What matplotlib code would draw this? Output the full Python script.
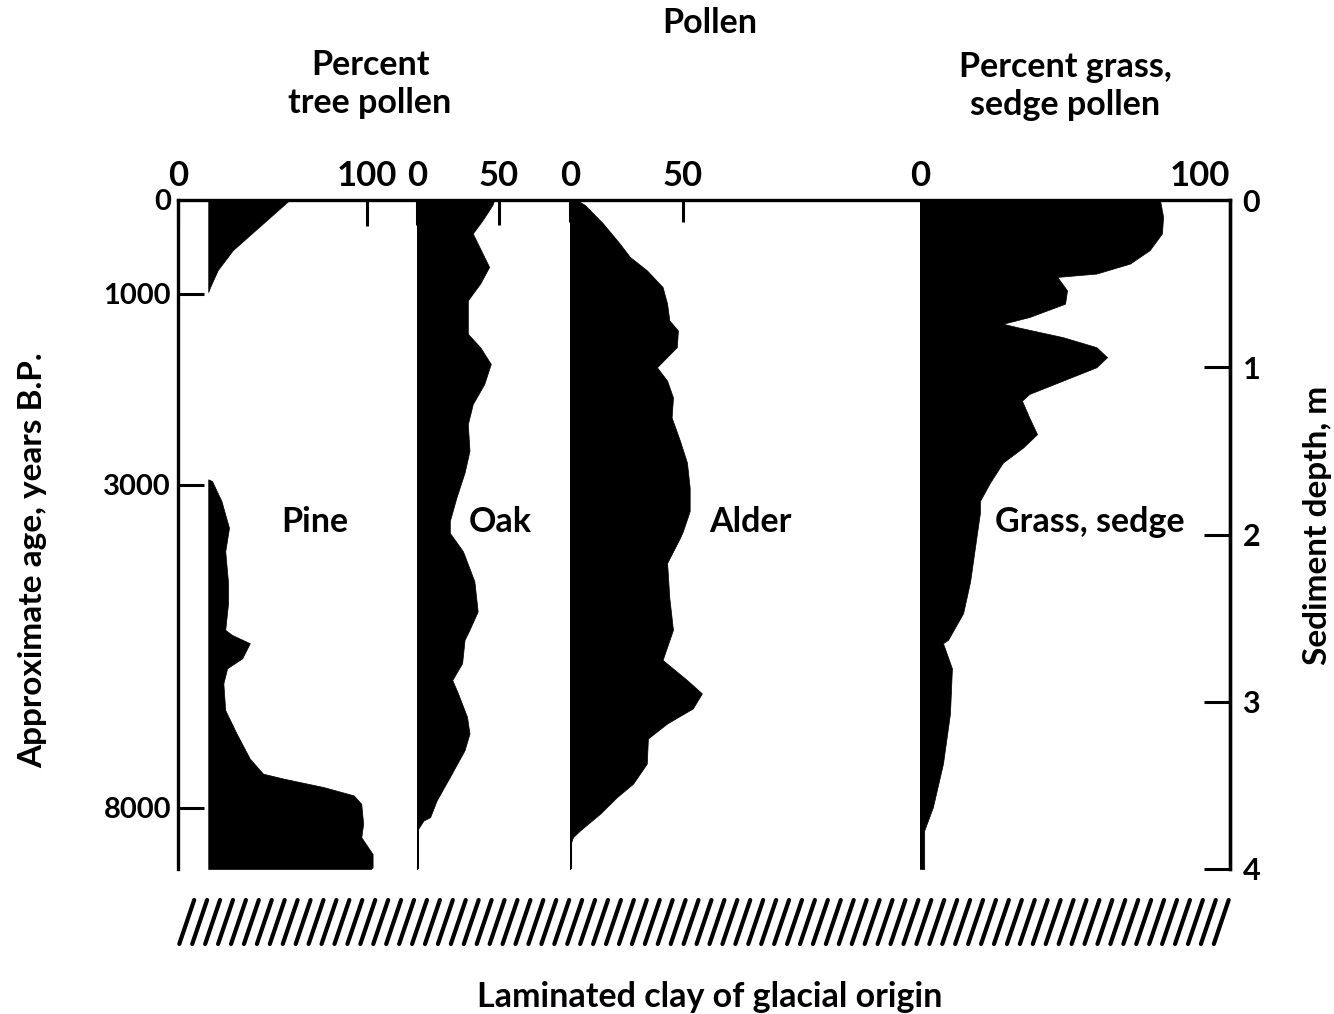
import numpy as np
import matplotlib.pyplot as plt

plt.rcParams['font.family'] = ['Lato', 'DejaVu Sans']
plt.rcParams['font.weight'] = 'bold'

# depth (m) of each reading, percent pollen
PINE_BASE = 16
PINE_TOP_DEPTH = [0.0, 0.16, 0.30, 0.42, 0.52, 0.55]
PINE_TOP = [59, 43, 29, 21, 17, 16]
PINE_LOW_DEPTH = [1.67, 1.68, 1.80, 1.96, 2.10, 2.29, 2.41, 2.57, 2.60, 2.65, 2.74, 2.80,
                  2.89, 3.05, 3.19, 3.34, 3.43, 3.46, 3.51, 3.56, 3.61, 3.73, 3.81, 3.91,
                  3.99, 4.0]
PINE_LOW = [16, 18, 23, 27, 25, 26.5, 26.5, 25, 28.5, 38, 34, 26,
            24, 25, 31, 38, 45, 56, 77, 93, 97, 98, 97, 103,
            103, 102]

OAK_DEPTH = [0, 0.03, 0.12, 0.20, 0.29, 0.40, 0.50, 0.60, 0.80, 0.88, 0.98, 1.10, 1.22,
             1.34, 1.50, 1.63, 1.78, 1.92, 1.99, 2.10, 2.28, 2.46, 2.57, 2.63, 2.77, 2.87,
             2.95, 3.09, 3.19, 3.29, 3.45, 3.59, 3.69, 3.71, 3.77, 4.0]
OAK = [47, 46, 40, 34, 38.5, 44, 38.5, 31, 31, 38.5, 45, 41, 34,
       31, 32, 29, 24, 20, 20, 28, 35, 37, 32, 29, 27.5, 21.5,
       25, 30.5, 32, 29, 20, 12, 8, 4, 0, 0]

ALDER_DEPTH = [0, 0.03, 0.14, 0.26, 0.34, 0.42, 0.52, 0.62, 0.72, 0.78, 0.88, 1.00, 1.08,
               1.18, 1.30, 1.44, 1.57, 1.72, 1.86, 1.98, 2.02, 2.17, 2.38, 2.57, 2.75, 2.87,
               2.95, 3.04, 3.13, 3.22, 3.37, 3.49, 3.57, 3.67, 3.77, 3.81, 3.86, 4.0]
ALDER = [3, 6.6, 14.6, 22, 26.5, 34, 41, 43, 44, 47.8, 47.3, 38.5, 43,
         45.6, 45, 48.7, 51.8, 53, 53, 50, 48.7, 43, 44, 45.6, 41, 51.8,
         58.4, 54.4, 43, 34.5, 34, 27.9, 20.8, 13.3, 4.4, 1.3, 0, 0]

GRASS_DEPTH = [0, 0.10, 0.20, 0.30, 0.38, 0.44, 0.46, 0.54, 0.62, 0.70, 0.74, 0.76, 0.82,
               0.88, 0.94, 1.00, 1.08, 1.16, 1.20, 1.30, 1.40, 1.48, 1.57, 1.69, 1.80, 1.87,
               2.08, 2.28, 2.47, 2.63, 2.65, 2.80, 3.07, 3.37, 3.63, 3.77, 4.0]
GRASS = [85.7, 86.8, 86.4, 82, 75, 63, 49, 52.5, 51.8, 39, 29.6, 34.6, 51,
         63, 66.8, 63, 51, 39, 36.4, 39, 41.8, 36.8, 29.6, 25, 21.4, 21.4,
         19.6, 17.9, 15.4, 10, 8.2, 11.4, 10.7, 8.2, 4.6, 1.5, 1.5]

AGE_LABELS = ['0', '1000', '3000', '8000']
AGE_DEPTH = [0, 0.562, 1.704, 3.635]
DEPTH_TICKS = [0, 1, 2, 3, 4]

W, H = 1334, 1014
fig = plt.figure(figsize=(W / 100, H / 100), dpi=100)


def box(x0, y0, x1, y1):
    return [x0 / W, 1 - y1 / H, (x1 - x0) / W, (y1 - y0) / H]


def label(x, y, s, **kw):
    kw.setdefault('fontsize', 24.5)
    fig.text(x / W, 1 - y / H, s, ha='center', va='center', **kw)


# outer frame with age (left) and depth (right) scales
frame = fig.add_axes(box(178, 200, 1230, 869))
frame.set_ylim(4, 0)
frame.set_xlim(0, 1)
frame.set_xticks([])
frame.spines['bottom'].set_visible(False)
for s in ['top', 'left', 'right']:
    frame.spines[s].set_linewidth(2.4)
frame.set_yticks(AGE_DEPTH)
frame.set_yticklabels(AGE_LABELS)
frame.tick_params(axis='y', direction='in', length=19, width=2.2, pad=5, labelsize=21)

right = frame.twinx()
right.set_ylim(4, 0)
right.set_yticks(DEPTH_TICKS)
right.spines['bottom'].set_visible(False)
right.spines['right'].set_linewidth(2.4)
right.tick_params(direction='in', length=19, width=2.2, pad=9, labelsize=22)

# pollen panels: (left px, right px, xmax, ticks, tick length)
panels = [
    (178, 417, 126.5, [0, 100], 19),
    (417, 570, 93.3, [0, 50], 18),
    (570, 920, 155.0, [0, 50], 16),
    (920, 1230, 110.7, [0, 100], 0),
]
axs = []
for x0, x1, xmax, ticks, tl in panels:
    ax = fig.add_axes(box(x0, 200, x1, 869))
    ax.patch.set_visible(False)
    for s in ax.spines.values():
        s.set_visible(False)
    ax.set_xlim(0, xmax)
    ax.set_ylim(4, 0)
    ax.set_yticks([])
    ax.xaxis.tick_top()
    ax.set_xticks(ticks)
    ax.set_xticklabels([str(t) for t in ticks])
    ax.tick_params(axis='x', direction='in', length=tl, width=2.2, pad=6, labelsize=25)
    axs.append(ax)

pine_ax, oak_ax, alder_ax, grass_ax = axs
pine_ax.fill_betweenx(PINE_TOP_DEPTH, PINE_BASE, PINE_TOP, color='black', lw=0.5)
pine_ax.fill_betweenx(PINE_LOW_DEPTH, PINE_BASE, PINE_LOW, color='black', lw=0.5)
oak_ax.fill_betweenx(OAK_DEPTH, 0, OAK, color='black', lw=0.5)
oak_ax.axvline(0, color='black', lw=2.2)
alder_ax.fill_betweenx(ALDER_DEPTH, 0, ALDER, color='black', lw=0.5)
alder_ax.axvline(0, color='black', lw=2.2)
grass_ax.fill_betweenx(GRASS_DEPTH, 0, GRASS, color='black', lw=0.5)
grass_ax.plot([0, 0], [0, 4], color='black', lw=2)

# glacial clay hatching
n_stripes = 81
slant = 1.15
hatch = fig.add_axes(box(178, 900, 1230, 944))
hatch.axis('off')
hatch.set_xlim(-0.1, n_stripes - 1 + slant + 0.1)
hatch.set_ylim(0, 1)
for i in range(n_stripes):
    hatch.plot([i, i + slant], [0, 1], color='black', lw=3.0,
               solid_capstyle='round', clip_on=False)

# texts
label(710, 23, 'Pollen')
label(370, 84, 'Percent\ntree pollen', linespacing=1.2)
label(1065, 86, 'Percent grass,\nsedge pollen', linespacing=1.2)
label(315, 522, 'Pine')
label(500, 522, 'Oak')
label(750, 522, 'Alder')
label(1090, 522, 'Grass, sedge')
label(710, 997, 'Laminated clay of glacial origin')
label(33, 560, 'Approximate age, years B.P.', rotation=90, fontsize=24)
label(1318, 525, 'Sediment depth, m', rotation=90, fontsize=24)

fig.savefig('out.png', dpi=100, facecolor='white')
